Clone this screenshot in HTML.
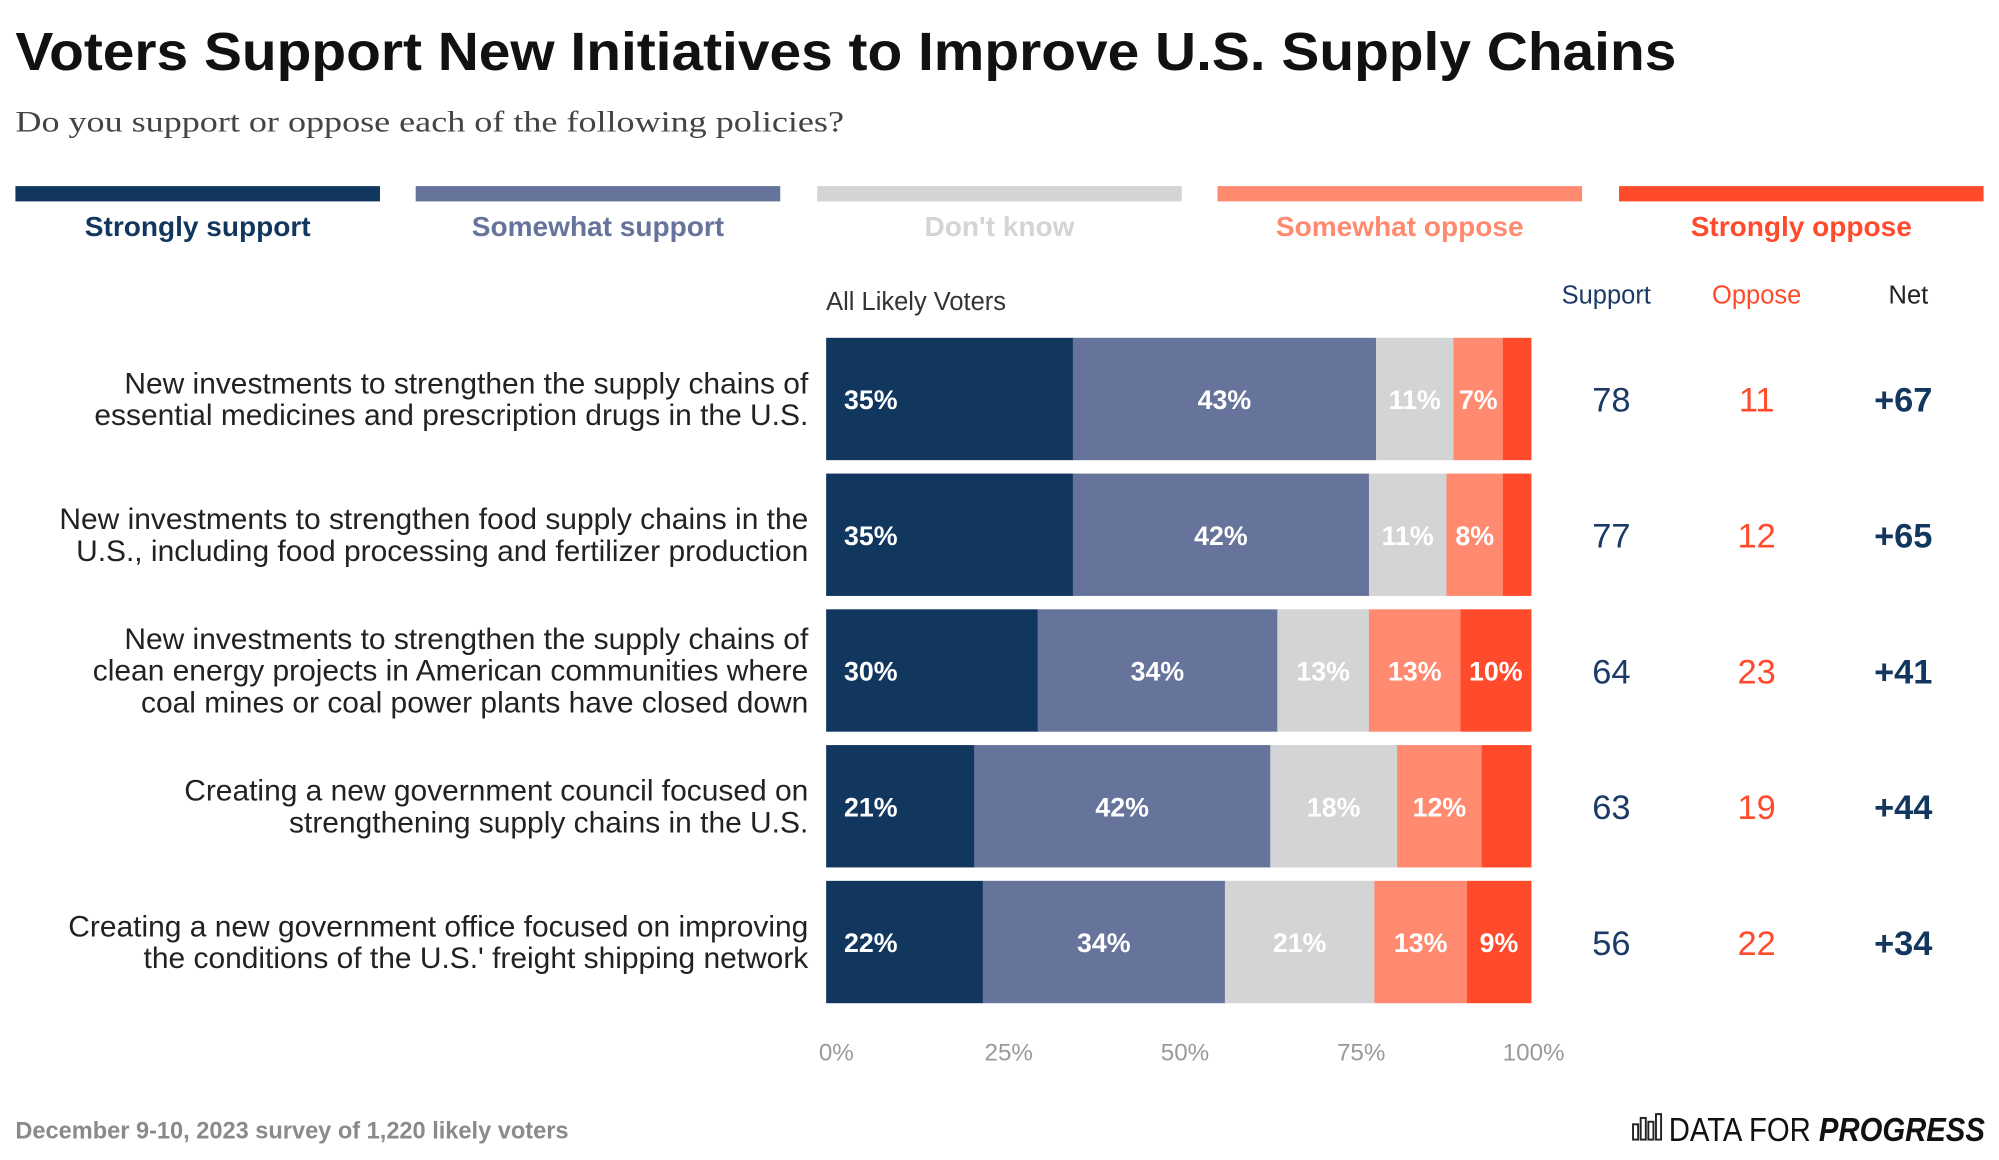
<!DOCTYPE html>
<html><head><meta charset="utf-8"><style>
html,body{margin:0;padding:0;background:#fff;}
svg{display:block;font-family:"Liberation Sans",Arial,sans-serif;}
</style></head><body>
<svg id="chart" width="1999" height="1160" viewBox="0 0 1568 910" xmlns="http://www.w3.org/2000/svg">
<rect width="1568" height="910" fill="#fff"/>
<text x="12" y="55" font-size="42" font-weight="bold" fill="#111" textLength="1303" lengthAdjust="spacingAndGlyphs">Voters Support New Initiatives to Improve U.S. Supply Chains</text>
<text x="12" y="103" font-size="23" fill="#444" font-family="Liberation Serif, serif" textLength="650" lengthAdjust="spacingAndGlyphs">Do you support or oppose each of the following policies?</text>
<g id="legend"></g>
<text x="648" y="243" font-size="20" fill="#333">All Likely Voters</text>
<text x="1260" y="238" font-size="20" fill="#1b3a66" text-anchor="middle">Support</text>
<text x="1378" y="238" font-size="20" fill="#ff4a2c" text-anchor="middle">Oppose</text>
<text x="1497" y="238" font-size="20" fill="#222" text-anchor="middle">Net</text>
<g id="rows"></g>
<g id="axis"></g>
<text x="12" y="893" font-size="18.5" font-weight="bold" fill="#8a8a8a">December 9-10, 2023 survey of 1,220 likely voters</text>
<g>
<rect x="1281" y="882" width="4" height="12" fill="none" stroke="#222" stroke-width="1.5"/>
<rect x="1287" y="877" width="4" height="17" fill="none" stroke="#222" stroke-width="1.5"/>
<rect x="1293" y="880" width="4" height="14" fill="none" stroke="#222" stroke-width="1.5"/>
<rect x="1299" y="874" width="4" height="20" fill="none" stroke="#222" stroke-width="1.5"/>
<text x="1557" y="895" font-size="26" fill="#111" text-anchor="end" textLength="248" lengthAdjust="spacingAndGlyphs"><tspan>DATA FOR </tspan><tspan font-weight="bold" font-style="italic">PROGRESS</tspan></text>
</g>
</svg>
<script>
const categories = ["Strongly support","Somewhat support","Don't know","Somewhat oppose","Strongly oppose"];
const questions = [
 ["New investments to strengthen the supply chains of","essential medicines and prescription drugs in the U.S."],
 ["New investments to strengthen food supply chains in the","U.S., including food processing and fertilizer production"],
 ["New investments to strengthen the supply chains of","clean energy projects in American communities where","coal mines or coal power plants have closed down"],
 ["Creating a new government council focused on","strengthening supply chains in the U.S."],
 ["Creating a new government office focused on improving","the conditions of the U.S.' freight shipping network"]
];
const stronglySupport = [35,35,30,21,22];
const somewhatSupport = [43,42,34,42,34];
const dontKnow = [11,11,13,18,21];
const somewhatOppose = [7,8,13,12,13];
const stronglyOppose = [4,4,10,7,9];
const supportTotals = [78,77,64,63,56];
const opposeTotals = [11,12,23,19,22];
const netValues = ["+67","+65","+41","+44","+34"];
const tickValues = [0,25,50,75,100];
const tickLabels = ["0%","25%","50%","75%","100%"];

const colors = ["#12375f","#66739a","#d3d4d6","#ff8a70","#ff4a2c"];
const legendTextColors = ["#12375f","#66739a","#d3d4d6","#ff8a70","#ff4a2c"];
const NS="http://www.w3.org/2000/svg";
const X0=648, X1=1201, ROW0=265, ROWSTEP=106.5, BARH=96;
function xScale(p){return X0+(X1-X0)*p/100;}
function mk(tag,attrs,parent){const e=document.createElementNS(NS,tag);for(const k in attrs)e.setAttribute(k,attrs[k]);parent.appendChild(e);return e;}

const legend=document.getElementById('legend');
const legendX=[12,326,641,955,1270];
categories.forEach((c,i)=>{
  const r=mk('rect',{x:legendX[i],y:146,width:286,height:12,fill:colors[i]},legend);
  
  
  const t=mk('text',{x:legendX[i]+143,y:185,'font-size':22,'font-weight':'bold',fill:legendTextColors[i],'text-anchor':'middle'},legend);
  
  
  t.textContent=c;
});

const rows=document.getElementById('rows');
const series=[stronglySupport,somewhatSupport,dontKnow,somewhatOppose,stronglyOppose];
questions.forEach((q,r)=>{
  const g=mk('g',{},rows);
  
  
  const y=ROW0+r*ROWSTEP, cy=y+BARH/2;
  const startY=cy-(q.length-1)*12.5+8;
  q.forEach((line,li)=>{
    const t=mk('text',{x:634,y:startY+li*25,'font-size':23.5,fill:'#222','text-anchor':'end'},g);
    
    
    t.textContent=line;
  });
  const total=series.reduce((s,a)=>s+a[r],0);
  let acc=0;
  series.forEach((arr,k)=>{
    const v=arr[r];
    const xa=xScale(acc/total*100), xb=xScale((acc+v)/total*100);
    const b=mk('rect',{x:xa,y:y,width:xb-xa+0.3,height:BARH,fill:colors[k]},g);
    
    
    const show = k===4 ? v>=9 : v>=7;
    if(show){
      const t=mk('text',{x:k===0?xa+14:(xa+xb)/2,y:cy+8,'font-size':21,'font-weight':'bold',fill:'#fff','text-anchor':k===0?'start':'middle'},g);
      
      
      t.textContent=v+'%';
    }
    acc+=v;
  });
  const s=mk('text',{x:1264,y:cy+10,'font-size':27,fill:'#1b3a66','text-anchor':'middle'},g);
  
  
  s.textContent=supportTotals[r];
  const o=mk('text',{x:1378,y:cy+10,'font-size':27,fill:'#ff4a2c','text-anchor':'middle'},g);
  
  
  o.textContent=opposeTotals[r];
  const n=mk('text',{x:1493,y:cy+10,'font-size':27,'font-weight':'bold',fill:'#12375f','text-anchor':'middle'},g);
  
  
  n.textContent=netValues[r];
});

const axis=document.getElementById('axis');
tickValues.forEach((v,i)=>{
  const t=mk('text',{x:xScale(v)+(i===0?8:i===4?2:5),y:832,'font-size':19,fill:'#9a9a9a','text-anchor':'middle'},axis);
  
  
  t.textContent=tickLabels[i];
});
</script>
</body></html>
